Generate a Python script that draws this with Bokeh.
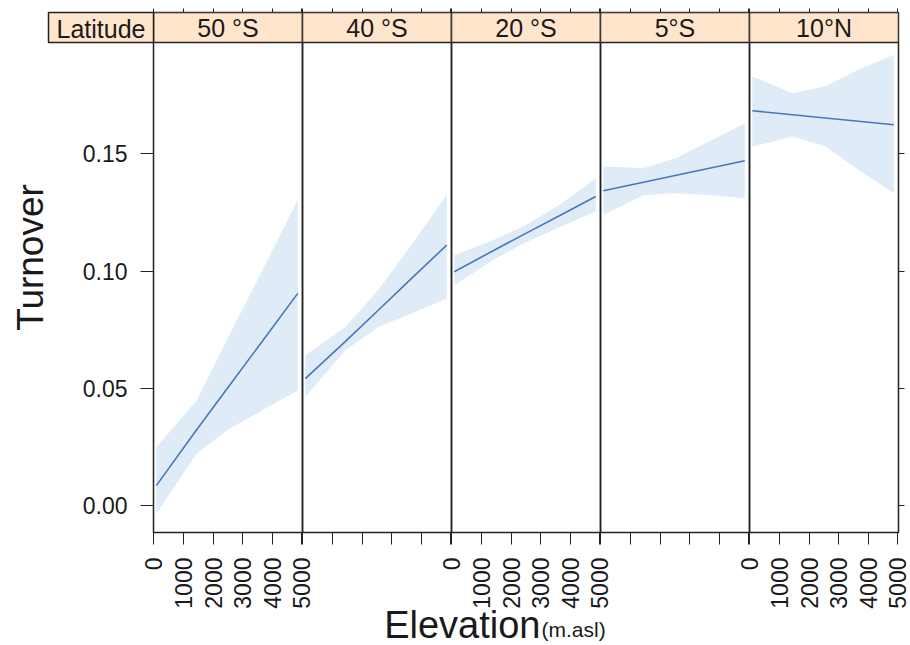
from math import pi

from bokeh.embed import file_html
from bokeh.models import (BoxAnnotation, ColumnDataSource, FixedTicker, GridBox, Label,
                          LinearAxis, PrintfTickFormatter, Range1d)
from bokeh.plotting import figure
from bokeh.resources import INLINE

# ---------------- data ----------------
LATITUDES = ["50 °S", "40 °S", "20 °S", "5°S", "10°N"]
ELEVATION = [80, 1440, 2550, 3670, 4870]

FIT = [
    [0.0085, 0.0322, 0.0511, 0.0701, 0.0905],
    [0.0541, 0.0700, 0.0833, 0.0968, 0.1111],
    [0.0997, 0.1090, 0.1164, 0.1238, 0.1318],
    [0.1343, 0.1379, 0.1409, 0.1439, 0.1471],
    [0.1684, 0.1667, 0.1653, 0.1639, 0.1624],
]
LOWER = [
    [-0.0036, 0.0221, 0.0328, 0.0406, 0.0491],
    [0.0463, 0.0662, 0.0762, 0.0819, 0.0883],
    [0.0940, 0.1052, 0.1125, 0.1189, 0.1254],
    [0.1239, 0.1325, 0.1332, 0.1325, 0.1311],
    [0.1531, 0.1574, 0.1531, 0.1432, 0.1332],
]
UPPER = [
    [0.0249, 0.0447, 0.0725, 0.1003, 0.1303],
    [0.0641, 0.0762, 0.0919, 0.1111, 0.1325],
    [0.1068, 0.1135, 0.1200, 0.1285, 0.1396],
    [0.1446, 0.1439, 0.1482, 0.1553, 0.1631],
    [0.1830, 0.1759, 0.1788, 0.1859, 0.1923],
]
X_TICKS = [0, 1000, 2000, 3000, 4000, 5000]
Y_TICKS = [0.0, 0.05, 0.10, 0.15]
Y_TITLE = "Turnover"
X_TITLE = "Elevation"
X_UNIT = "(m.asl)"
STRIP_NAME = "Latitude"

# ---------------- styling / layout ----------------
FONT = "Liberation Sans"
TXT = "#1a1a1a"
AX = "#222222"
LINE_COLOR = "#4878B8"
RIBBON_COLOR = "#DFEBF7"
STRIP_COLOR = "#FFE5CC"
FRAME_W, FRAME_H = 149, 520
LEFT_W, RIGHT_W, TOP_H, BOTTOM_H = 153, 12, 12, 113
N = len(LATITUDES)
TOTAL_W = LEFT_W + N * FRAME_W + RIGHT_W
TOTAL_H = TOP_H + FRAME_H + BOTTOM_H
STRIP_BOTTOM, STRIP_TOP = 490, 520   # screen units, from frame bottom


def make_panel(i):
    first, last = i == 0, i == N - 1
    left = LEFT_W + i * FRAME_W
    right = TOTAL_W - left - FRAME_W
    p = figure(
        frame_width=FRAME_W, frame_height=FRAME_H,
        x_range=Range1d(-15, 5030), y_range=Range1d(-0.0115, 0.2103),
        output_backend="svg", toolbar_location=None,
        min_border_left=left, min_border_right=right,
        min_border_top=TOP_H, min_border_bottom=BOTTOM_H,
        y_axis_location="left" if first else None,
    )
    p.frame_align = False
    p.xgrid.visible = False
    p.ygrid.visible = False
    p.background_fill_color = None
    p.border_fill_color = None
    p.outline_line_color = AX
    p.outline_line_width = 1.5
    p.outline_line_alpha = 1

    src = ColumnDataSource(dict(elev=ELEVATION, fit=FIT[i], lo=LOWER[i], hi=UPPER[i]))
    p.varea(x="elev", y1="lo", y2="hi", source=src, fill_color=RIBBON_COLOR, fill_alpha=1)
    p.line(x="elev", y="fit", source=src, line_color=LINE_COLOR, line_width=1.6)

    xa = p.xaxis[0]
    xa.ticker = FixedTicker(ticks=X_TICKS)
    xa.major_tick_out = 12
    xa.major_tick_in = 0
    xa.minor_tick_line_color = None
    xa.axis_line_color = AX
    xa.major_tick_line_color = AX
    xa.major_label_orientation = pi / 2
    xa.major_label_standoff = 13
    xa.major_label_text_font = FONT
    xa.major_label_text_font_size = "23px"
    xa.major_label_text_color = TXT
    if i % 2 == 1:
        xa.major_label_overrides = {t: "" for t in X_TICKS}

    top = LinearAxis(ticker=FixedTicker(ticks=X_TICKS), major_tick_out=4, major_tick_in=0,
                     minor_tick_line_color=None, axis_line_color=None,
                     major_tick_line_color=AX,
                     major_label_text_font_size="0px", major_label_standoff=0,
                     major_label_overrides={t: "" for t in X_TICKS})
    p.add_layout(top, "above")

    if first:
        ya = p.yaxis[0]
        ya.ticker = FixedTicker(ticks=Y_TICKS)
        ya.formatter = PrintfTickFormatter(format="%.2f")
        ya.major_tick_out = 13
        ya.major_tick_in = 0
        ya.minor_tick_line_color = None
        ya.axis_line_color = AX
        ya.major_tick_line_color = AX
        ya.major_label_standoff = 13
        ya.major_label_text_font = FONT
        ya.major_label_text_font_size = "23px"
        ya.major_label_text_color = TXT
    if last:
        ra = LinearAxis(ticker=FixedTicker(ticks=Y_TICKS), major_tick_out=6, major_tick_in=0,
                        minor_tick_line_color=None, axis_line_color=None,
                        major_tick_line_color=AX,
                        major_label_text_font_size="0px", major_label_standoff=0,
                        major_label_overrides={t: "" for t in Y_TICKS})
        p.add_layout(ra, "right")

    # strip with latitude label
    p.add_layout(BoxAnnotation(left=0, right=FRAME_W, bottom=STRIP_BOTTOM, top=STRIP_TOP,
                               left_units="screen", right_units="screen",
                               bottom_units="screen", top_units="screen",
                               fill_color=STRIP_COLOR, fill_alpha=1,
                               line_color=AX, line_width=1.5, line_alpha=1))
    p.add_layout(Label(x=FRAME_W / 2, y=505, x_units="screen", y_units="screen",
                       text=LATITUDES[i], text_align="center", text_baseline="middle",
                       text_font=FONT, text_font_size="25px", text_color=TXT))
    return p


panels = [make_panel(i) for i in range(N)]

# transparent overlay carrying the titles and the "Latitude" header box
ov = figure(width=TOTAL_W, height=TOTAL_H, x_range=Range1d(0, TOTAL_W),
            y_range=Range1d(TOTAL_H, 0), output_backend="svg", toolbar_location=None,
            min_border=0, x_axis_location=None, y_axis_location=None)
ov.frame_align = False
ov.xgrid.visible = False
ov.ygrid.visible = False
ov.outline_line_color = None
ov.background_fill_color = None
ov.border_fill_color = None
ov.add_layout(BoxAnnotation(left=48, right=LEFT_W, top=TOP_H, bottom=TOP_H + 30,
                            fill_color=STRIP_COLOR, fill_alpha=1,
                            line_color=AX, line_width=1.5, line_alpha=1))
ov.add_layout(Label(x=(48 + LEFT_W) / 2, y=28, text=STRIP_NAME, text_align="center",
                    text_baseline="middle", text_font=FONT, text_font_size="25px",
                    text_color=TXT))
ov.add_layout(Label(x=30, y=257, text=Y_TITLE, angle=pi / 2, text_align="center",
                    text_baseline="middle", text_font=FONT, text_font_size="37px",
                    text_color=TXT))
ov.add_layout(Label(x=540, y=624, text=X_TITLE, text_align="right", text_baseline="middle",
                    text_font=FONT, text_font_size="38px", text_color=TXT))
ov.add_layout(Label(x=541, y=629, text=X_UNIT, text_align="left", text_baseline="middle",
                    text_font=FONT, text_font_size="21px", text_color=TXT))

children = [(p, 0, 0) for p in panels] + [(ov, 0, 0)]
layout = GridBox(children=children)
open("out.html", "w").write(file_html(layout, INLINE))
